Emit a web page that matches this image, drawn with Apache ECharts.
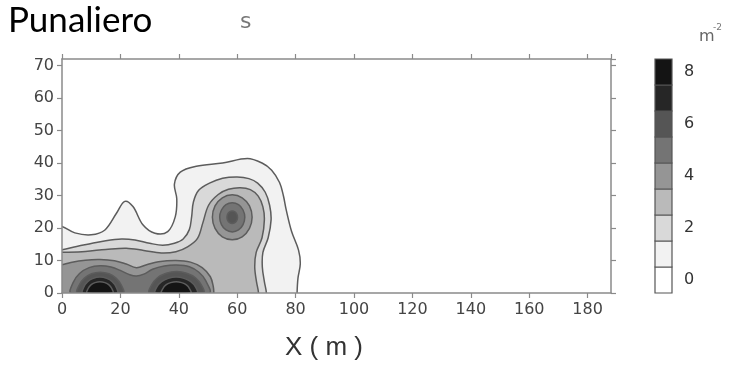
<!DOCTYPE html>
<html>
<head>
<meta charset="utf-8">
<script src="https://cdn.jsdelivr.net/npm/echarts@6/dist/echarts.min.js"></script>
<style>
  html, body { margin: 0; padding: 0; background: #ffffff; }
  #chart { width: 739px; height: 385px; }
</style>
</head>
<body>
<div id="chart"></div>
<script>
// Contour bands (m^-2): fill colour of the region inside each level
const levelColors = ['#ffffff', '#f2f2f2', '#d9d9d9', '#bababa', '#959595', '#747474', '#555555', '#262626', '#141414'];
const colorbarLevels = [0, 1, 2, 3, 4, 5, 6, 7, 8];
const colorbarLabels = [0, 2, 4, 6, 8];

// Axis ranges (m)
const xRange = [0, 188];
const yRange = [0, 72];

// Contour outlines as [x (m), y (m)] vertices, lowest level first
const contour1 = [[-4,20.8],[0,20.5],[4.4,18.5],[10,17.9],[14.7,19.4],[18.7,24.6],[21.5,28.2],[24.3,26.6],[27.7,21],[31.8,18.4],[36.2,18.9],[38.8,23.5],[39.3,29],[38.5,33.5],[40.5,37.2],[46,39],[55,40],[63.5,41.4],[68.5,40],[71.8,37.8],[74.5,34],[75.8,30],[76.8,25.5],[78.6,19],[81,13.2],[81.6,9],[80.8,4.5],[80.5,0],[80.5,-4],[-4,-4]];
const contour2 = [[-4,13.1],[0,13.3],[5,14.3],[10,15.2],[15,16.1],[20.4,16.6],[25,16.3],[30,15.3],[34.5,14.7],[38.5,15.3],[41.5,16.6],[43.6,19.5],[44.4,23.5],[45,28],[46.8,31.6],[50.5,33.8],[55,35.3],[60,35.7],[64,35.2],[67,33.8],[69.6,31],[71.1,27],[71.6,22.5],[70.6,17],[68.8,12.5],[68.6,8],[69.3,3.5],[70,0],[70,-4],[-4,-4]];
const contour3 = [[-4,12.4],[0,12.5],[8,12.8],[15,13.4],[22,13.8],[28,13.1],[34,12.3],[39,12.7],[43,14.2],[46.4,16.8],[48.2,21.5],[50.2,27],[53.5,30.3],[57,31.9],[61,32.4],[64.5,31.8],[67.2,29.8],[68.8,26.5],[69.3,22.5],[68.5,17],[66.5,12.5],[66,8],[66.6,3.5],[67.3,0],[67.3,-4],[-4,-4]];
const contour4Lobes = [[-4,8.6],[0,8.7],[3,9.4],[8,10.1],[13,10.3],[18,9.9],[22,8.9],[25.5,7.8],[29,8.7],[33,9.6],[39,10],[44,9.5],[48,7.8],[50.8,5],[51.8,2],[52,0],[52,-4],[-4,-4]];
const contour4Knoll = [[65.1,23.3],[64.2,26.8],[61.7,29.3],[58.3,30.2],[54.9,29.3],[52.4,26.8],[51.5,23.3],[52.4,19.9],[54.9,17.3],[58.3,16.4],[61.7,17.3],[64.2,19.9]];
const contour5Lobes = [[3.2,0],[3.8,3.2],[6,6],[9.3,7.8],[13,8.4],[16.8,8],[20.3,6.8],[23.2,5.6],[25.5,5.2],[28,5.8],[31,7.3],[35,8.3],[39.2,8.6],[43.6,8.1],[46.9,6.4],[49.2,3.8],[50.3,0]];
const contour5Knoll = [[62.6,23.3],[62,25.55],[60.45,27.2],[58.3,27.8],[56.15,27.2],[54.6,25.55],[54,23.3],[54.6,21.05],[56.15,19.4],[58.3,18.8],[60.45,19.4],[62,21.05]];
const contour6West = [[20.9,0],[20.3,2.45],[18.6,4.5],[16.1,5.9],[13.1,6.4],[10.1,5.9],[7.6,4.5],[5.9,2.45],[5.3,0]];
const contour6East = [[48.4,0],[47.7,2.5],[45.7,4.7],[42.7,6.1],[39.2,6.6],[35.7,6.1],[32.7,4.7],[30.7,2.5],[30,0]];
const contour6Knoll = [[60.1,23.3],[59.86,24.25],[59.2,24.95],[58.3,25.2],[57.4,24.95],[56.74,24.25],[56.5,23.3],[56.74,22.35],[57.4,21.65],[58.3,21.4],[59.2,21.65],[59.86,22.35]];
const contour7West = [[18.9,0],[18.5,1.9],[17.2,3.5],[15.3,4.5],[13,4.9],[10.7,4.5],[8.8,3.5],[7.5,1.9],[7.1,0]];
const contour7East = [[46.2,0],[45.7,1.9],[44.1,3.5],[41.8,4.5],[39.1,4.9],[36.4,4.5],[34.1,3.5],[32.5,1.9],[32,0]];
const contour8West = [[17.4,0],[17.1,1.3],[16.1,2.5],[14.7,3.2],[13,3.5],[11.3,3.2],[9.9,2.5],[8.9,1.3],[8.6,0]];
const contour8East = [[44.1,0],[43.7,1.3],[42.6,2.5],[41,3.2],[39.1,3.5],[37.2,3.2],[35.6,2.5],[34.5,1.3],[34.1,0]];

const contourShapes = [contour1, contour2, contour3, contour4Lobes, contour4Knoll,
  contour5Lobes, contour5Knoll, contour6West, contour6East, contour6Knoll,
  contour7West, contour7East, contour8West, contour8East];
const contourLevels = [1, 2, 3, 4, 4, 5, 5, 6, 6, 6, 7, 7, 8, 8];

const axisGray = '#8a8a8a';
const labelStyle = { color: '#444', fontSize: 16, fontFamily: 'DejaVu Sans' };

const chart = echarts.init(document.getElementById('chart'), null, { renderer: 'canvas' });

chart.setOption({
  animation: false,
  backgroundColor: '#ffffff',
  grid: [
    { left: 62, top: 59, width: 549, height: 234 },
    { left: 655, top: 59, width: 17, height: 234 }
  ],
  xAxis: [
    {
      gridIndex: 0, type: 'value', min: xRange[0], max: xRange[1], interval: 20, z: 5,
      axisLine: { show: true, lineStyle: { color: axisGray, width: 1.5 } },
      axisTick: { show: true, length: 5, lineStyle: { color: axisGray, width: 1.2 } },
      axisLabel: Object.assign({ margin: 9, showMaxLabel: false }, labelStyle),
      splitLine: { show: false }
    },
    {
      gridIndex: 0, type: 'value', position: 'top', min: xRange[0], max: xRange[1], interval: 20, z: 5,
      axisLine: { show: true, onZero: false, lineStyle: { color: axisGray, width: 1.5 } },
      axisTick: { show: true, length: 5, lineStyle: { color: axisGray, width: 1.2 } },
      axisLabel: { show: false },
      splitLine: { show: false }
    },
    {
      gridIndex: 1, type: 'category', data: [''], show: false
    }
  ],
  yAxis: [
    {
      gridIndex: 0, type: 'value', min: yRange[0], max: yRange[1], interval: 10, z: 5,
      axisLine: { show: true, onZero: false, lineStyle: { color: axisGray, width: 1.5 } },
      axisTick: { show: true, length: 5, lineStyle: { color: axisGray, width: 1.2 } },
      axisLabel: Object.assign({ margin: 8, showMaxLabel: false }, labelStyle),
      splitLine: { show: false }
    },
    {
      gridIndex: 0, type: 'value', position: 'right', min: yRange[0], max: yRange[1], interval: 10, z: 5,
      axisLine: { show: true, onZero: false, lineStyle: { color: axisGray, width: 1.5 } },
      axisTick: { show: true, length: 5, lineStyle: { color: axisGray, width: 1.2 } },
      axisLabel: { show: false },
      splitLine: { show: false }
    },
    {
      gridIndex: 1, type: 'value', position: 'right', min: -0.5, max: 8.5, interval: 0.5,
      axisLine: { show: false }, axisTick: { show: false }, splitLine: { show: false },
      axisLabel: {
        margin: 12, color: '#333', fontSize: 16, fontFamily: 'DejaVu Sans',
        formatter: function (v) {
          return colorbarLabels.indexOf(v) >= 0 ? String(v) : '';
        }
      }
    }
  ],
  series: [
    {
      type: 'custom',
      xAxisIndex: 0, yAxisIndex: 0,
      clip: true,
      z: 2,
      data: contourShapes.map(function (_, i) { return [i]; }),
      encode: { x: -1, y: -1 },
      renderItem: function (params, api) {
        const i = params.dataIndex;
        const pts = contourShapes[i].map(function (p) { return api.coord(p); });
        return {
          type: 'polygon',
          shape: { points: pts, smooth: 0.35 },
          style: { fill: levelColors[contourLevels[i]], stroke: '#5c5c5c', lineWidth: 1.5 }
        };
      }
    },
    {
      type: 'custom',
      xAxisIndex: 2, yAxisIndex: 2,
      data: colorbarLevels.map(function (lv) { return [0, lv]; }),
      encode: { x: 0, y: 1 },
      renderItem: function (params, api) {
        const lv = api.value(1);
        const top = api.coord([0, lv + 0.5]);
        const bottom = api.coord([0, lv - 0.5]);
        const w = api.size([1, 0])[0];
        return {
          type: 'rect',
          shape: { x: top[0] - w / 2, y: top[1], width: w, height: bottom[1] - top[1] },
          style: { fill: levelColors[lv], stroke: '#555555', lineWidth: 1.2 }
        };
      }
    }
  ],
  graphic: [
    {
      type: 'text', left: 8, top: 3,
      style: { text: 'Punaliero', fill: '#000000', fontSize: 35, fontFamily: 'Lato' }
    },
    {
      type: 'text', left: 240, top: 11,
      style: { text: 's', fill: '#777777', fontSize: 22, fontFamily: 'DejaVu Sans' }
    },
    {
      type: 'text', left: 699, top: 29,
      style: { text: 'm', fill: '#666666', fontSize: 16, fontFamily: 'DejaVu Sans' }
    },
    {
      type: 'text', left: 713, top: 23,
      style: { text: '-2', fill: '#777777', fontSize: 9, fontFamily: 'DejaVu Sans' }
    },
    {
      type: 'text', left: 285, top: 335,
      style: { text: 'X ( m )', fill: '#333333', fontSize: 26, fontFamily: 'Liberation Sans' }
    }
  ]
});
</script>
</body>
</html>
